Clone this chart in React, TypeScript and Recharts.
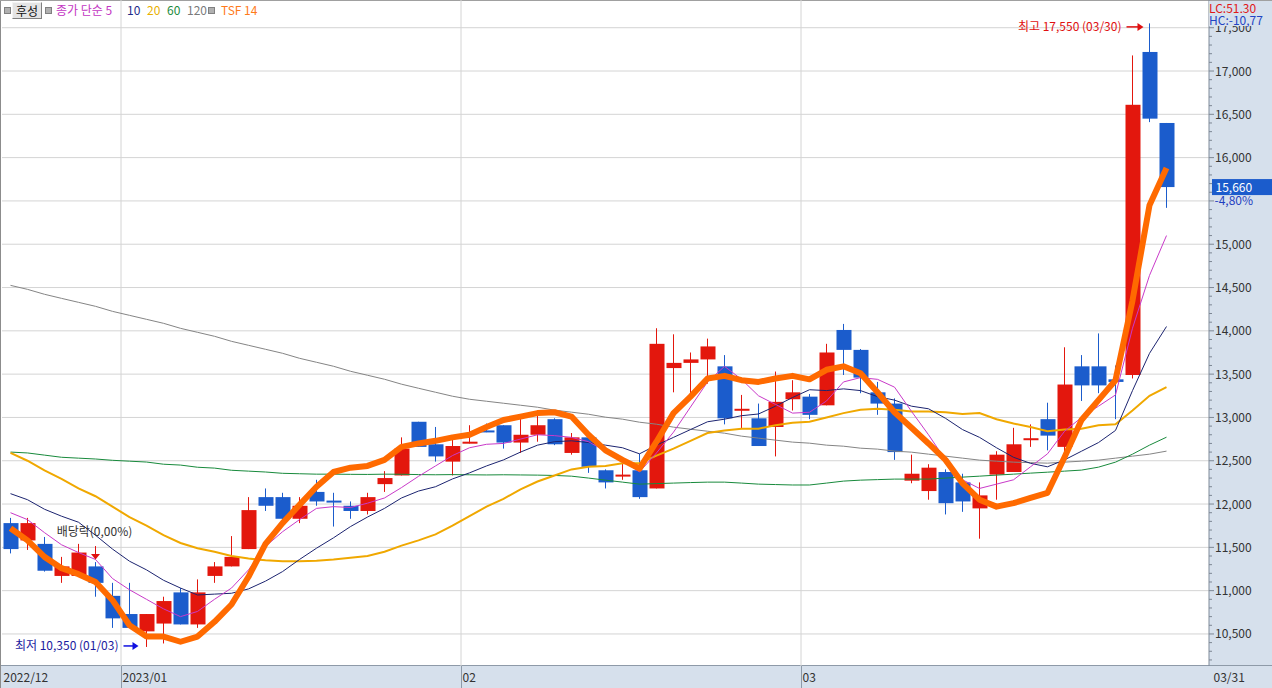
import React from 'react'
import {
  ComposedChart,
  Bar,
  Line,
  XAxis,
  YAxis,
  CartesianGrid,
  ReferenceLine,
  ReferenceDot,
} from 'recharts'

// trading days shown (2022/12/21 .. 2023/03/31)
const dates = [
  '2022/12/21', '2022/12/22', '2022/12/23', '2022/12/26', '2022/12/27', '2022/12/28', '2022/12/29',
  '2023/01/02', '2023/01/03', '2023/01/04', '2023/01/05', '2023/01/06', '2023/01/09', '2023/01/10',
  '2023/01/11', '2023/01/12', '2023/01/13', '2023/01/16', '2023/01/17', '2023/01/18', '2023/01/19',
  '2023/01/20', '2023/01/25', '2023/01/26', '2023/01/27', '2023/01/30', '2023/01/31',
  '2023/02/01', '2023/02/02', '2023/02/03', '2023/02/06', '2023/02/07', '2023/02/08', '2023/02/09',
  '2023/02/10', '2023/02/13', '2023/02/14', '2023/02/15', '2023/02/16', '2023/02/17', '2023/02/20',
  '2023/02/21', '2023/02/22', '2023/02/23', '2023/02/24', '2023/02/27', '2023/02/28',
  '2023/03/02', '2023/03/03', '2023/03/06', '2023/03/07', '2023/03/08', '2023/03/09', '2023/03/10',
  '2023/03/13', '2023/03/14', '2023/03/15', '2023/03/16', '2023/03/17', '2023/03/20', '2023/03/21',
  '2023/03/22', '2023/03/23', '2023/03/24', '2023/03/27', '2023/03/28', '2023/03/29', '2023/03/30',
  '2023/03/31',
]

const open = [
  11780, 11580, 11540, 11170, 11170, 11280, 10940,
  10730, 10530, 10620, 10980, 10610, 11170, 11280, 11480, 12080, 12080, 11830, 12140, 12040, 11980,
  11920, 12230, 12330, 12950, 12690, 12490,
  12710, 12850, 12910, 12710, 12800, 12980, 12590, 12770, 12390, 12330, 12390, 12180, 13570, 13630,
  13670, 13590, 13080, 12990, 12890, 13210,
  13240, 13140, 14010, 13780, 13290, 13160, 12270, 12150, 12370, 12250, 11950, 12340, 12370, 12750,
  12980, 12660, 13590, 13590, 13440, 13490, 17220, 16400,
]
const high = [
  11840, 11840, 11620, 11390, 11540, 11330, 11090,
  11090, 10730, 10930, 11030, 11130, 11330, 11630, 12080, 12180, 12130, 12080, 12280, 12130, 12030,
  12130, 12380, 12770, 12950, 12890, 12750,
  12910, 12930, 12910, 12990, 13030, 12990, 12820, 12770, 12400, 12500, 12580, 14030, 13960, 13750,
  13910, 13720, 13260, 13160, 13530, 13430,
  13270, 13850, 14080, 13790, 13410, 13220, 12570, 12460, 12400, 12350, 12250, 12610, 12880, 12920,
  13170, 13810, 13720, 13970, 13600, 17180, 17550, 16400,
]
const low = [
  11430, 11470, 11220, 11090, 11170, 10930, 10570,
  10570, 10350, 10390, 10610, 10570, 11090, 11280, 11480, 11920, 11780, 11780, 11980, 11740, 11830,
  11880, 12140, 12330, 12660, 12490, 12330,
  12700, 12830, 12640, 12590, 12720, 12680, 12570, 12360, 12180, 12280, 12060, 12180, 13290, 13220,
  13390, 12920, 12870, 12670, 12550, 13080,
  12980, 13140, 13490, 13280, 13030, 12510, 12240, 12050, 11880, 11910, 11600, 12050, 12370, 12660,
  12620, 12590, 13190, 13280, 12980, 13450, 16410, 15420,
]
const close = [
  11480, 11780, 11230, 11280, 11440, 11090, 10680,
  10570, 10730, 10880, 10610, 10980, 11280, 11390, 11930, 11980, 11830, 11980, 12030, 12030, 11920,
  12080, 12300, 12640, 12660, 12550, 12670,
  12720, 12840, 12710, 12800, 12910, 12690, 12770, 12430, 12250, 12340, 12080, 13850, 13630, 13670,
  13820, 12990, 13100, 12670, 13180, 13290,
  13030, 13750, 13780, 13460, 13160, 12600, 12350, 12420, 12010, 12030, 12100, 12570, 12690, 12760,
  12790, 13380, 13370, 13370, 13410, 16610, 16450, 15660,
]

// indicator lines
const ma5 = [
  11900, 11820, 11670, 11530, 11440, 11360, 11140,
  11010, 10900, 10790, 10700, 10760, 10900, 11030, 11240, 11510, 11680, 11820, 11950, 11970, 11960,
  12010, 12070, 12190, 12320, 12440, 12560,
  12650, 12690, 12700, 12750, 12800, 12790, 12770, 12720, 12610, 12500, 12370, 12590, 12830, 13120,
  13410, 13590, 13440, 13250, 13150, 13050,
  13060, 13190, 13410, 13460, 13440, 13350, 13070, 12800, 12510, 12280, 12180, 12230, 12280, 12430,
  12580, 12840, 13000, 13130, 13260, 14030, 14640, 15100,
]
const ma10 = [
  12120, 12050, 11940, 11860, 11790, 11640, 11480,
  11340, 11240, 11120, 11030, 10950, 10960, 10970, 11020, 11110, 11220, 11360, 11490, 11610, 11740,
  11850, 11950, 12070, 12150, 12200, 12290,
  12360, 12440, 12510, 12600, 12680, 12720, 12730, 12710, 12680, 12650, 12580, 12680, 12770, 12860,
  12950, 12980, 13020, 13040, 13130, 13230,
  13320, 13310, 13330, 13310, 13240, 13200, 13130, 13100, 12990, 12860, 12770, 12650, 12540, 12470,
  12430, 12510, 12610, 12710, 12850, 13310, 13740, 14050,
]
const ma20 = [
  12590, 12500, 12390, 12290, 12180, 12090, 11970,
  11850, 11750, 11640, 11550, 11490, 11450, 11400, 11370, 11350, 11340, 11340, 11345, 11360, 11380,
  11400, 11450, 11520, 11580, 11650, 11750,
  11860, 11970, 12060, 12170, 12260, 12330, 12400, 12430, 12440, 12470, 12470, 12560, 12640, 12730,
  12820, 12850, 12870, 12870, 12910, 12940,
  12950, 13000, 13050, 13090, 13100, 13090, 13070, 13070, 13060, 13040, 13050, 12980, 12930, 12890,
  12840, 12860, 12870, 12910, 12920, 13080, 13250, 13350,
]
const ma60 = [
  12600, 12590, 12565, 12540, 12530, 12520, 12505,
  12495, 12485, 12460, 12450, 12425, 12415, 12390, 12380, 12370, 12355, 12350, 12345, 12345, 12343,
  12342, 12345, 12344, 12340, 12338, 12340,
  12338, 12336, 12338, 12336, 12334, 12330, 12322, 12300, 12276, 12253, 12230, 12236, 12242, 12248,
  12253, 12253, 12242, 12230, 12225, 12220,
  12220, 12242, 12265, 12276, 12282, 12288, 12288, 12288, 12300, 12311, 12322, 12334, 12345, 12357,
  12368, 12380, 12392, 12426, 12484, 12576, 12680, 12772,
]
const ma120 = [
  14525, 14479, 14422, 14375, 14329, 14283, 14225,
  14179, 14133, 14087, 14029, 13983, 13937, 13879, 13833, 13787, 13741, 13683, 13637, 13591, 13533,
  13487, 13441, 13384, 13337, 13291, 13245,
  13210, 13187, 13164, 13141, 13118, 13084, 13061, 13037, 13003, 12980, 12945, 12922, 12888, 12864,
  12841, 12818, 12784, 12761, 12738, 12715,
  12703, 12680, 12668, 12645, 12634, 12611, 12599, 12576, 12553, 12530, 12507, 12495, 12484, 12478,
  12472, 12484, 12495, 12507, 12530, 12553, 12576, 12611,
]
const tsf14 = [
  11720, 11580, 11390, 11260, 11190, 11100, 10890,
  10600, 10470, 10470, 10410, 10470, 10640, 10840, 11160, 11540, 11780, 11990, 12200, 12370, 12420,
  12440, 12510, 12660, 12700, 12730, 12770,
  12800, 12890, 12970, 13010, 13050, 13060, 13010, 12800, 12620, 12510, 12410, 12720, 13050, 13240,
  13450, 13480, 13430, 13410, 13450, 13480,
  13440, 13550, 13590, 13510, 13290, 13060, 12880, 12700, 12510, 12240, 12050, 11970, 12010, 12070,
  12130, 12540, 12970, 13200, 13430, 14350, 15450, 15880,
]

// empty slots on the right edge
const padSlots = ['pad1', 'pad2']

const monthTicks = ['2022/12/21', '2023/01/02', '2023/02/01', '2023/03/02', '2023/03/31']
const monthLabels = ['2022/12', '2023/01', '02', '03', '03/31']
const monthStarts = ['2023/01/02', '2023/02/01', '2023/03/02']

const yGrid = [10500, 11000, 11500, 12000, 12500, 13000, 13500, 14000, 14500, 15000, 15500, 16000, 16500, 17000, 17500]
const yDomain = [10130, 17820]

const highLabel = '최고 17,550 (03/30)'
const lowLabel = '최저 10,350 (01/03)'
const divLabel = '배당락(0,00%)'
const lastPrice = 15660
const lastLabel = '15,660'
const lastPct = '-4,80%'

const W = 1272
const H = 688
const RED = '#e3170d'
const BLUE = '#1b5ccc'
const PANEL = '#d6e0ec'
const FONT = '"Noto Sans CJK KR", "Noto Sans", sans-serif'

const rows: any[] = [
  ...dates.map((d, i) => ({
    date: d,
    open: open[i],
    high: high[i],
    low: low[i],
    close: close[i],
    range: [low[i], high[i]],
    ma5: ma5[i],
    ma10: ma10[i],
    ma20: ma20[i],
    ma60: ma60[i],
    ma120: ma120[i],
    tsf: tsf14[i],
  })),
  ...padSlots.map((p) => ({ date: p })),
]

const yTicks: number[] = []
for (let v = 10200; v <= 17800; v += 100) yTicks.push(v)

function Candle(props: any) {
  const { x, y, width, height, payload } = props
  if (!payload || payload.open == null) return null
  const top0 = Math.min(y, y + height)
  const h = Math.abs(height)
  const { open: o, close: c, high: hi, low: lo } = payload
  const color = c >= o ? RED : BLUE
  const cx = Math.round(x + width / 2) - 0.5
  const per = hi === lo ? 0 : h / (hi - lo)
  const yOf = (v: number) => top0 + (hi - v) * per
  const bTop = yOf(Math.max(o, c))
  const bBot = yOf(Math.min(o, c))
  return (
    <g>
      <line x1={cx} x2={cx} y1={top0} y2={top0 + h} stroke={color} strokeWidth={1} />
      <rect x={cx - 7} y={bTop} width={15} height={Math.max(bBot - bTop, 2)} fill={color} />
    </g>
  )
}

function XTick(props: any) {
  const { x, y, payload } = props
  const i = monthTicks.indexOf(payload.value)
  if (i < 0) return null
  const half = payload.offset ?? 8.5
  const left = Math.round(x - half) + 0.5
  if (i === monthTicks.length - 1) {
    return (
      <text x={x + 47} y={y + 16} fontSize={12} fill="#333" fontFamily={FONT}>
        {monthLabels[i]}
      </text>
    )
  }
  return (
    <g>
      {i > 0 && <line x1={left} x2={left} y1={y} y2={y + 22} stroke="#8e9aa8" />}
      <text x={left + 1} y={y + 16} fontSize={12} fill="#333" fontFamily={FONT}>
        {monthLabels[i]}
      </text>
    </g>
  )
}

function YTick(props: any) {
  const { x, y, payload } = props
  const v = payload.value
  const major = v % 500 === 0
  // the last-price flag covers the label right under it
  const hidden = v < lastPrice && lastPrice - v < 250
  return (
    <g>
      <line x1={x} x2={x + (major ? 5 : 3)} y1={y} y2={y} stroke="#7d8794" />
      {major && !hidden && (
        <text x={x + 6} y={y + 4.5} fontSize={12} fill="#333" fontFamily={FONT}>
          {v.toLocaleString('en-US')}
        </text>
      )}
    </g>
  )
}

function HighMark(p: any) {
  const { cx, cy } = p
  return (
    <g>
      <text x={cx - 28} y={cy + 8} textAnchor="end" fontSize={12} fill="#e01010" fontFamily={FONT}>
        {highLabel}
      </text>
      <line x1={cx - 23} x2={cx - 11} y1={cy + 3.5} y2={cy + 3.5} stroke="#e01010" strokeWidth={1.5} />
      <path d={`M${cx - 12},${cy - 0.5} L${cx - 6},${cy + 3.5} L${cx - 12},${cy + 7.5} Z`} fill="#e01010" />
    </g>
  )
}

function LowMark(p: any) {
  const { cx, cy } = p
  return (
    <g>
      <text x={cx - 28} y={cy + 3.5} textAnchor="end" fontSize={12} fill="#1a1aa0" fontFamily={FONT}>
        {lowLabel}
      </text>
      <line x1={cx - 23} x2={cx - 13} y1={cy - 1} y2={cy - 1} stroke="#1010e0" strokeWidth={1.5} />
      <path d={`M${cx - 14},${cy - 5} L${cx - 8},${cy - 1} L${cx - 14},${cy + 3} Z`} fill="#1010e0" />
    </g>
  )
}

function DivMark(p: any) {
  const { cx, cy } = p
  return (
    <g>
      <text x={cx - 1} y={cy - 26} textAnchor="middle" fontSize={12} fill="#333" fontFamily={FONT}>
        {divLabel}
      </text>
      <path d={`M${cx - 4.5},${cy - 8} L${cx + 4.5},${cy - 8} L${cx},${cy - 2.5} Z`} fill="#e01010" />
      <line x1={cx} x2={cx} y1={cy - 16} y2={cy - 8} stroke="#e01010" />
    </g>
  )
}

function LastMark(p: any) {
  const { cx, cy } = p
  return (
    <g>
      <rect x={cx + 45.5} y={cy - 8} width={62} height={16} fill={BLUE} />
      <text x={cx + 49} y={cy + 4.5} fontSize={12} fill="#fff" fontFamily={FONT}>
        {lastLabel}
      </text>
      <text x={cx + 48} y={cy + 18} fontSize={12} fill="#1f3fc0" fontFamily={FONT}>
        {lastPct}
      </text>
    </g>
  )
}

const legendItems = [
  { text: '종가 단순 5', left: 56, color: '#c335c3' },
  { text: '10', left: 127, color: '#1e2b8a' },
  { text: '20', left: 147, color: '#e8b000' },
  { text: '60', left: 167, color: '#1d8b3c' },
  { text: '120', left: 187, color: '#7a7a7a' },
  { text: 'TSF 14', left: 221, color: '#ff7a1a' },
]

function Square({ left }: { readonly left: number }) {
  return (
    <div
      style={{
        position: 'absolute',
        left,
        top: 7,
        width: 5,
        height: 5,
        background: '#b0b0b0',
        border: '1px solid #808080',
      }}
    />
  )
}

export default function App() {
  return (
    <div
      style={{
        position: 'absolute',
        left: 0,
        top: 0,
        width: W,
        height: H,
        background: '#fff',
        overflow: 'hidden',
        fontFamily: FONT,
      }}
    >
      <div style={{ position: 'absolute', left: 1209, top: 0, width: 63, height: H, background: PANEL }} />
      <div
        style={{
          position: 'absolute',
          left: 0,
          top: 665,
          width: W,
          height: 23,
          background: PANEL,
          borderTop: '1px solid #8e9aa8',
          boxSizing: 'border-box',
        }}
      />
      <div style={{ position: 'absolute', left: 0, top: 0, width: 1, height: H, background: '#8c8c8c' }} />
      <div style={{ position: 'absolute', left: 0, top: 0, width: W, height: 1, background: '#a0a0a0' }} />

      <div style={{ position: 'absolute', left: 0, top: 0 }}>
        <ComposedChart width={W} height={H} data={rows} margin={{ top: 0, right: 0, bottom: 0, left: 2 }}>
          <CartesianGrid vertical={false} horizontalValues={yGrid} stroke="#d4d4d4" />
          {monthStarts.map((d) => (
            <ReferenceLine key={d} x={d} position="start" stroke="#d4d4d4" />
          ))}
          <XAxis
            dataKey="date"
            ticks={monthTicks}
            interval={0}
            height={22}
            tickSize={0}
            tickMargin={0}
            axisLine={false}
            tickLine={false}
            tick={<XTick />}
          />
          <YAxis
            orientation="right"
            width={63}
            domain={yDomain}
            type="number"
            allowDataOverflow
            ticks={yTicks}
            interval={0}
            tickSize={0}
            tickMargin={0}
            tickLine={false}
            axisLine={{ stroke: '#7f8a99' }}
            tick={<YTick />}
          />
          <Line dataKey="ma120" type="linear" stroke="#858585" strokeWidth={1} dot={false} isAnimationActive={false} />
          <Line dataKey="ma60" type="linear" stroke="#188a3c" strokeWidth={1} dot={false} isAnimationActive={false} />
          <Line dataKey="ma20" type="linear" stroke="#f0a800" strokeWidth={2} dot={false} isAnimationActive={false} />
          <Line dataKey="ma10" type="linear" stroke="#1c2470" strokeWidth={1} dot={false} isAnimationActive={false} />
          <Line dataKey="ma5" type="linear" stroke="#c93ac9" strokeWidth={1} dot={false} isAnimationActive={false} />
          <Line
            dataKey="tsf"
            type="linear"
            stroke="#ff6a00"
            strokeWidth={6}
            strokeLinejoin="round"
            dot={false}
            isAnimationActive={false}
          />
          <Bar dataKey="range" barSize={15} shape={<Candle />} isAnimationActive={false} />
          <ReferenceDot x="2023/03/30" y={17550} r={0} ifOverflow="visible" shape={<HighMark />} />
          <ReferenceDot x="2023/01/03" y={10350} r={0} ifOverflow="visible" shape={<LowMark />} />
          <ReferenceDot x="2022/12/28" y={11330} r={0} ifOverflow="visible" shape={<DivMark />} />
          <ReferenceDot x="2023/03/31" y={lastPrice} r={0} ifOverflow="visible" shape={<LastMark />} />
        </ComposedChart>
      </div>

      <Square left={4} />
      <div
        style={{
          position: 'absolute',
          left: 12,
          top: 2,
          width: 30,
          height: 17,
          background: '#e4e4e4',
          borderTop: '1px solid #f4f4f4',
          borderLeft: '1px solid #f4f4f4',
          borderRight: '1px solid #808080',
          borderBottom: '1px solid #808080',
          boxSizing: 'border-box',
          fontSize: 12,
          lineHeight: '15px',
          textAlign: 'center',
          color: '#111',
        }}
      >
        후성
      </div>
      <Square left={45} />
      {legendItems.map((it) => (
        <span
          key={it.text}
          style={{
            position: 'absolute',
            left: it.left,
            top: 2,
            fontSize: 12,
            lineHeight: '16px',
            color: it.color,
            whiteSpace: 'nowrap',
          }}
        >
          {it.text}
        </span>
      ))}
      <Square left={208} />

      <div
        style={{
          position: 'absolute',
          left: 1209,
          top: 1,
          width: 63,
          height: 13,
          fontSize: 12,
          lineHeight: '13px',
          color: '#e01818',
          background: PANEL,
        }}
      >
        LC:51,30
      </div>
      <div
        style={{
          position: 'absolute',
          left: 1209,
          top: 13,
          width: 63,
          height: 13,
          fontSize: 12,
          lineHeight: '13px',
          color: '#2244c4',
          background: PANEL,
        }}
      >
        HC:-10,77
      </div>
    </div>
  )
}
